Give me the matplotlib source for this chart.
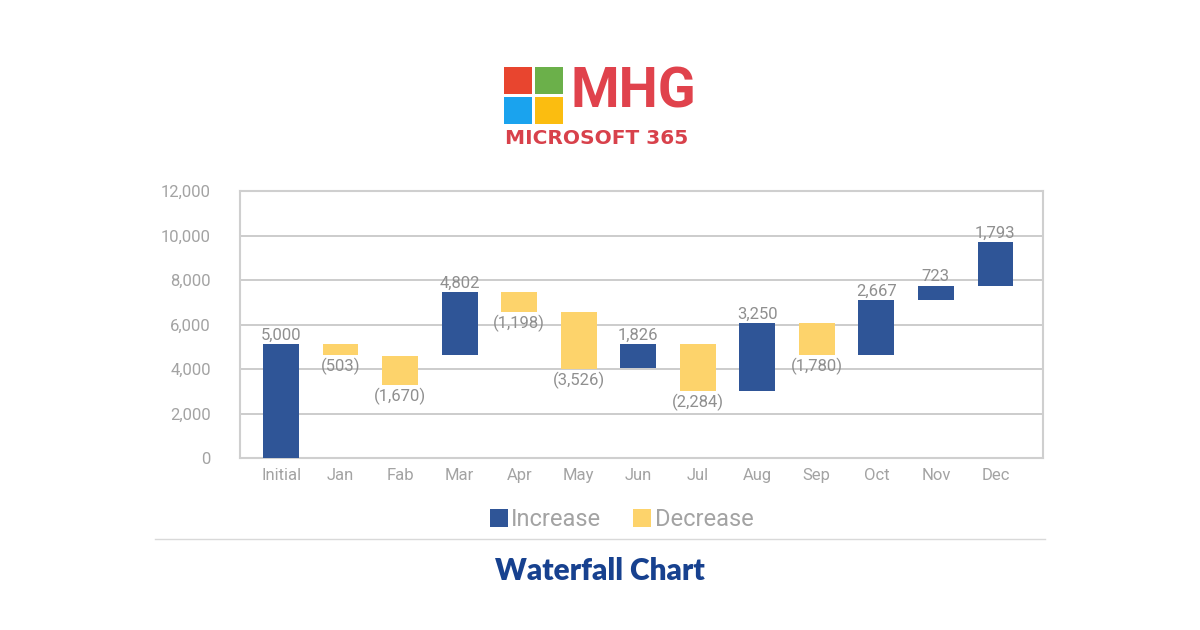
import matplotlib.pyplot as plt
from matplotlib.patches import Rectangle

# data
categories=['Initial','Jan','Fab','Mar','Apr','May','Jun','Jul','Aug','Sep','Oct','Nov','Dec']
labels=[5000,-503,-1670,4802,-1198,-3526,1826,-2284,3250,-1780,2667,723,1793]
bar_bottom=[0,4620,3290,4620,6550,4000,4035,2995,2990,4620,4620,7110,7750]
bar_top=[5130,5130,4605,7440,7440,6550,5130,5130,6050,6050,7095,7750,9700]
yticks=[0,2000,4000,6000,8000,10000,12000]

BLUE='#2f5597'
YELLOW='#fdd36b'
GRAY='#a3a3a3'
LABEL_GRAY='#8f8f8f'

plt.rcParams['font.family']=['Roboto','DejaVu Sans']

W,H=1200,630
fig=plt.figure(figsize=(12,6.3),dpi=100)
fig.patch.set_facecolor('white')

def fx(px): return px/W
def fy(py): return 1-py/H

# logo
squares=[(504,67,'#e8452f'),(535,67,'#6bb04a'),(504,97,'#1aa3ee'),(535,97,'#fbbd10')]
for x,y,c in squares:
    fig.patches.append(Rectangle((fx(x),fy(y+27)),28/W,27/H,transform=fig.transFigure,facecolor=c,linewidth=0,zorder=1))
fig.text(fx(571),fy(92),'MHG',fontsize=40,fontweight='bold',color='#e0424c',va='center',ha='left')
fig.text(fx(597),fy(138),'MICROSOFT 365',fontsize=14.5,fontweight='bold',color='#d8414b',va='center',ha='center',family=['DejaVu Sans'])

ax=fig.add_axes([fx(240),fy(458),(1043-240)/W,(458-191)/H])
x=list(range(len(categories)))
heights=[t-b for t,b in zip(bar_top,bar_bottom)]
colors=[BLUE if v>0 else YELLOW for v in labels]
ax.bar(x,heights,bottom=bar_bottom,width=0.6,color=colors,zorder=3)

for i,v in enumerate(labels):
    if v>0:
        ax.annotate(f'{v:,}',(i,bar_top[i]),xytext=(0,1),textcoords='offset points',ha='center',va='bottom',fontsize=12,color=LABEL_GRAY,zorder=4)
    else:
        ax.annotate(f'({-v:,})',(i,bar_bottom[i]),xytext=(0,-2),textcoords='offset points',ha='center',va='top',fontsize=12,color=LABEL_GRAY,zorder=4)

ax.set_xlim(-0.69,12.8)
ax.set_ylim(0,12000)
ax.set_yticks(yticks)
ax.set_yticklabels([f'{t:,}' for t in yticks])
ax.set_xticks(x)
ax.set_xticklabels(categories)
ax.tick_params(axis='both',length=0,labelsize=12,labelcolor=GRAY)
ax.tick_params(axis='y',pad=21)
ax.tick_params(axis='x',pad=7)
ax.grid(axis='y',color='#c4c4c4',linewidth=1.2,zorder=0)
for s in ax.spines.values():
    s.set_color('#cfcfcf')
    s.set_linewidth(1.5)

# legend
fig.patches.append(Rectangle((fx(490),fy(527)),18/W,18/H,transform=fig.transFigure,facecolor=BLUE,linewidth=0))
fig.text(fx(511),fy(519),'Increase',fontsize=17,color=GRAY,va='center',ha='left')
fig.patches.append(Rectangle((fx(633),fy(527)),18/W,18/H,transform=fig.transFigure,facecolor=YELLOW,linewidth=0))
fig.text(fx(655),fy(519),'Decrease',fontsize=17,color=GRAY,va='center',ha='left')

fig.add_artist(plt.Line2D([fx(155),fx(1045)],[fy(539),fy(539)],transform=fig.transFigure,color='#d9d9d9',linewidth=1))
fig.text(0.5,fy(571),'Waterfall Chart',fontsize=21.5,fontweight='heavy',color='#17418f',va='center',ha='center',family=['Lato','DejaVu Sans'])

fig.savefig('out.png',dpi=100,facecolor='white')
